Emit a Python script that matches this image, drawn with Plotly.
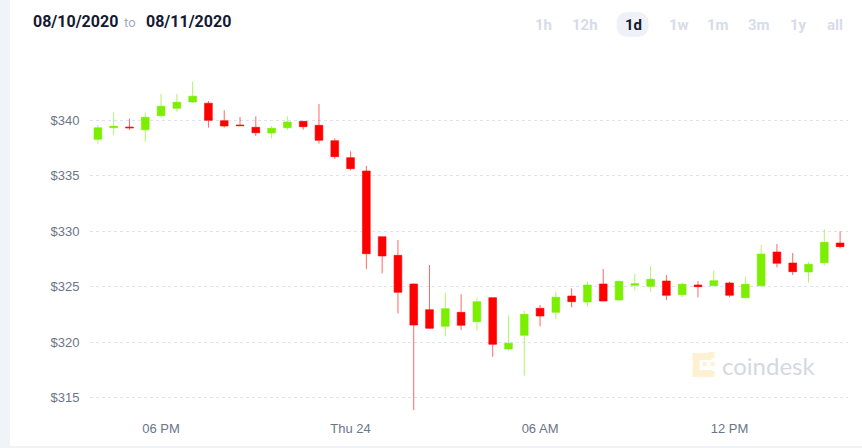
import pandas as pd
import plotly.graph_objects as go

# ---------------- data (30-minute candles) ----------------
start_time = "2020-09-23 16:00"
n_candles = 48
times = pd.date_range(start_time, periods=n_candles, freq="30min")

opens = [338.26, 339.31, 339.37, 339.12, 340.39, 341.06, 341.62, 341.51, 339.94, 339.55,
         339.34, 338.83, 339.31, 339.88, 339.52, 338.14, 336.61, 335.41, 329.50, 327.82,
         325.24, 322.93, 321.43, 322.69, 321.85, 324.01, 319.39, 320.62, 323.05, 322.69,
         324.16, 323.62, 325.24, 323.80, 325.12, 325.03, 325.51, 324.28, 325.15, 325.09,
         325.33, 324.01, 325.09, 328.12, 327.13, 326.32, 327.16, 328.93]
highs = [339.55, 340.66, 340.12, 340.66, 342.35, 342.35, 343.46, 341.71, 340.88, 340.27,
         340.33, 339.46, 340.33, 339.88, 341.44, 338.35, 337.18, 335.86, 329.50, 329.20,
         325.30, 326.95, 324.46, 324.31, 324.01, 324.01, 322.42, 322.81, 323.35, 324.55,
         324.85, 325.45, 326.59, 325.54, 326.14, 326.83, 326.05, 325.39, 325.51, 326.44,
         325.45, 325.87, 328.75, 328.84, 328.03, 327.22, 330.16, 329.98]
lows = [337.83, 338.65, 339.12, 338.04, 340.21, 340.75, 341.53, 339.31, 339.31, 339.49,
        338.56, 338.35, 339.10, 339.13, 337.87, 336.49, 335.47, 326.59, 326.20, 322.60,
        313.74, 321.19, 320.53, 321.10, 321.04, 318.70, 319.23, 316.99, 321.43, 322.09,
        323.14, 323.20, 323.68, 323.74, 324.67, 324.55, 323.80, 324.07, 324.04, 325.09,
        324.04, 323.95, 324.97, 326.74, 326.05, 325.36, 326.89, 328.45]
closes = [339.30, 339.43, 339.30, 340.24, 341.24, 341.60, 342.14, 339.97, 339.46, 339.49,
          338.85, 339.25, 339.82, 339.40, 338.17, 336.70, 335.62, 327.97, 327.76, 324.49,
          321.55, 321.25, 323.02, 321.52, 323.65, 319.81, 319.90, 322.51, 322.36, 324.04,
          323.65, 325.15, 323.71, 325.48, 325.27, 325.66, 324.22, 325.21, 325.00, 325.54,
          324.22, 325.21, 327.94, 327.10, 326.35, 327.01, 328.99, 328.60]

x_tick_vals = ["2020-09-23 18:00", "2020-09-24 00:00", "2020-09-24 06:00", "2020-09-24 12:00"]
x_tick_text = ["06 PM", "Thu 24", "06 AM", "12 PM"]
y_tick_vals = [315, 320, 325, 330, 335, 340]
y_tick_text = ["$315", "$320", "$325", "$330", "$335", "$340"]

date_from = "08/10/2020"
date_to = "08/11/2020"
range_buttons = ["1h", "12h", "1d", "1w", "1m", "3m", "1y", "all"]
active_button = "1d"

# ---------------- layout geometry ----------------
W, H = 862, 448
ML, MR, MT, MB = 90, 13.5, 60, 38
PW = W - ML - MR
PH = H - MT - MB


def px(x):
    return (x - ML) / PW


def py(y):
    return (H - MB - y) / PH


fig = go.Figure()
fig.add_trace(go.Candlestick(
    x=times, open=opens, high=highs, low=lows, close=closes,
    increasing=dict(fillcolor="#7cef00", line=dict(color="rgba(124,239,0,0.6)", width=1)),
    decreasing=dict(fillcolor="#ff0000", line=dict(color="rgba(255,0,0,0.6)", width=1)),
    whiskerwidth=0,
    hoverinfo="skip",
    showlegend=False,
))

shapes = []
# white card over light page background
shapes.append(dict(type="rect", xref="paper", yref="paper", layer="below",
                   x0=px(10), x1=px(W + 5), y0=py(446), y1=py(-5),
                   fillcolor="white", line=dict(width=0)))


def rounded_path(x0, y0, x1, y1, r):
    pts = [
        f"M {px(x0 + r)},{py(y0)}",
        f"L {px(x1 - r)},{py(y0)}",
        f"Q {px(x1)},{py(y0)} {px(x1)},{py(y0 + r)}",
        f"L {px(x1)},{py(y1 - r)}",
        f"Q {px(x1)},{py(y1)} {px(x1 - r)},{py(y1)}",
        f"L {px(x0 + r)},{py(y1)}",
        f"Q {px(x0)},{py(y1)} {px(x0)},{py(y1 - r)}",
        f"L {px(x0)},{py(y0 + r)}",
        f"Q {px(x0)},{py(y0)} {px(x0 + r)},{py(y0)}",
        "Z",
    ]
    return " ".join(pts)


# pill behind active range button
shapes.append(dict(type="path", xref="paper", yref="paper", layer="below",
                   path=rounded_path(617, 12, 649, 37, 12),
                   fillcolor="#eef2f8", line=dict(width=0)))

# coindesk logo blocks (watermark)
logo_col = "#fdf1d2"
for (a, b, c, d) in [(693, 353, 700, 377), (693, 353, 712, 360), (693, 370, 712, 377),
                     (709, 352, 715, 358), (709, 371, 715, 377), (703, 362, 707, 366),
                     (711, 362, 715, 366)]:
    shapes.append(dict(type="rect", xref="paper", yref="paper", layer="below",
                       x0=px(a), x1=px(c), y0=py(d), y1=py(b),
                       fillcolor=logo_col, line=dict(width=0)))

annotations = []
annotations.append(dict(xref="paper", yref="paper", x=px(31), y=py(21), xanchor="left", yanchor="middle",
                        text=f"<b>{date_from}</b>", showarrow=False,
                        font=dict(family="Roboto", size=16, color="#141a30")))
annotations.append(dict(xref="paper", yref="paper", x=px(130.5), y=py(22), xanchor="center", yanchor="middle",
                        text="to", showarrow=False,
                        font=dict(family="Roboto", size=13, color="#a4acbc")))
annotations.append(dict(xref="paper", yref="paper", x=px(144), y=py(21), xanchor="left", yanchor="middle",
                        text=f"<b>{date_to}</b>", showarrow=False,
                        font=dict(family="Roboto", size=16, color="#141a30")))

button_x = [544, 585, 633.5, 679, 718.5, 759.5, 799, 835]
for lab, bx in zip(range_buttons, button_x):
    active = lab == active_button
    annotations.append(dict(xref="paper", yref="paper", x=px(bx), y=py(25), xanchor="center", yanchor="middle",
                            text=f"<b>{lab}</b>", showarrow=False,
                            font=dict(family="Roboto", size=15,
                                      color="#141a30" if active else "#d6dce8")))

annotations.append(dict(xref="paper", yref="paper", x=px(720), y=py(365), xanchor="left", yanchor="middle",
                        text="coindesk", showarrow=False,
                        font=dict(family="Lato", size=24, color="#d4d8df")))

fig.update_layout(
    width=W, height=H, autosize=False,
    margin=dict(l=ML, r=MR, t=MT, b=MB, pad=0),
    paper_bgcolor="#f0f3f8",
    plot_bgcolor="rgba(0,0,0,0)",
    boxgap=0.3,
    shapes=shapes,
    annotations=annotations,
    showlegend=False,
    font=dict(family="Liberation Sans, Arial", color="#6b7588", size=13),
    xaxis=dict(
        type="date",
        range=["2020-09-23 15:45", "2020-09-24 15:45"],
        rangeslider=dict(visible=False),
        showgrid=False, zeroline=False, showline=False,
        tickmode="array", tickvals=x_tick_vals, ticktext=x_tick_text,
        ticks="outside", ticklen=6, tickcolor="rgba(0,0,0,0)",
        tickfont=dict(size=13, color="#6b7588"),
        fixedrange=True,
    ),
    yaxis=dict(
        range=[313.9, 345.4],
        tickmode="array", tickvals=y_tick_vals, ticktext=y_tick_text,
        showgrid=True, gridcolor="#dce3ee", griddash="dot", gridwidth=1,
        zeroline=False, showline=False,
        ticks="outside", ticklen=7, tickcolor="rgba(0,0,0,0)",
        tickfont=dict(size=13, color="#6b7588"),
        fixedrange=True,
    ),
)

fig.write_html("out.html", config={"displayModeBar": False})
